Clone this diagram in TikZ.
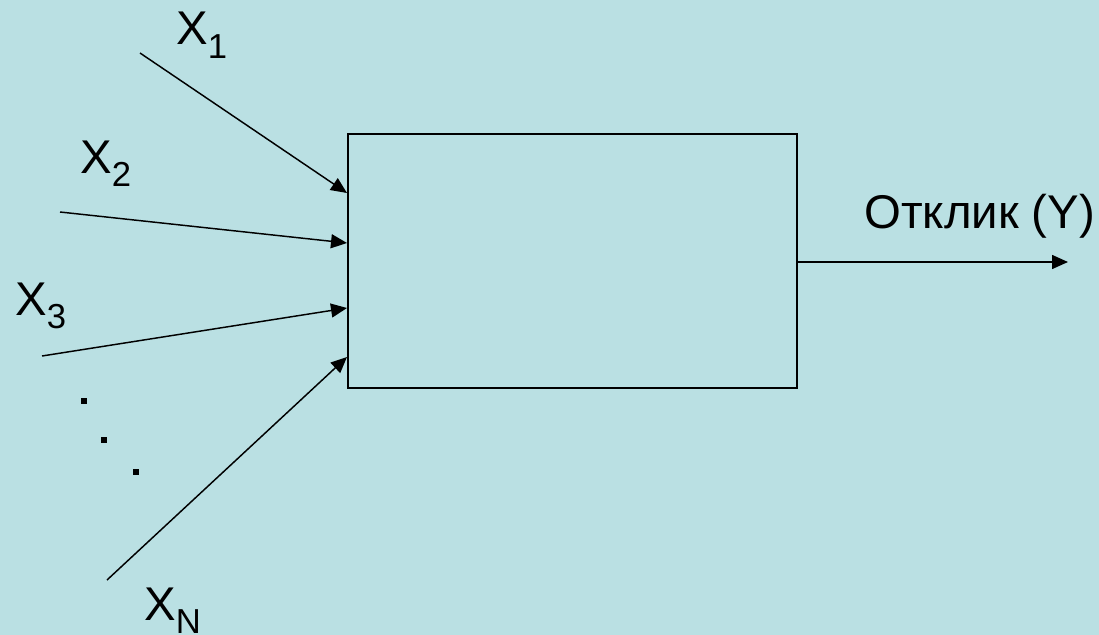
\documentclass[tikz,border=0pt]{standalone}
\usepackage{fontspec}
\setmainfont{Liberation Sans}
\usetikzlibrary{arrows.meta}
\definecolor{bg}{RGB}{186,224,227}
\newcommand{\lbl}[2]{#1\raisebox{-10pt}{\fontsize{26}{26}\selectfont #2}}
\tikzset{
  conn/.style={line width=1.1pt, -{Triangle[length=12pt,width=10.5pt]}},
  lab/.style={inner sep=0pt, anchor=base west, font=\fontsize{35.5}{40}\selectfont},
  dotsq/.style={fill=black, minimum size=5pt, inner sep=0pt, draw=none}
}
\begin{document}
\begin{tikzpicture}[x=0.75pt, y=-0.75pt]
  \fill[bg] (0,0) rectangle (1099,635);
  \useasboundingbox (0,0) rectangle (1099,635);

  % central block
  \node[draw, line width=1.7pt, minimum width=449*0.75pt, minimum height=254*0.75pt,
        inner sep=0pt, anchor=north west] (box) at (347,133) {};

  % free ends of the inputs
  \coordinate (s1) at (140,53);
  \coordinate (s2) at (60,212);
  \coordinate (s3) at (42,356);
  \coordinate (sN) at (107,580);
  % entry points on the block
  \coordinate (e1) at (347,193);
  \coordinate (e2) at (347,243);
  \coordinate (e3) at (347,308);
  \coordinate (eN) at (347,357);
  \coordinate (out) at (1068,262);

  \draw[conn] (s1) -- (e1);
  \draw[conn] (s2) -- (e2);
  \draw[conn] (s3) -- (e3);
  \draw[conn] (sN) -- (eN);
  \draw[conn] (box.east |- out) -- (out);

  % input labels
  \node[lab] (x1) at (176,45) {\lbl{X}{1}};
  \node[lab] (x2) at (80,173) {\lbl{X}{2}};
  \node[lab] (x3) at (15,315) {\lbl{X}{3}};
  \node[lab] (xN) at (144,620) {\lbl{X}{N}};
  \node[lab] (y) at (864,228) {Отклик (Y)};

  % ellipsis dots
  \node[dotsq] (d1) at (84,401) {};
  \node[dotsq] (d2) at (104,440) {};
  \node[dotsq] (d3) at (136,472) {};
\end{tikzpicture}
\end{document}
